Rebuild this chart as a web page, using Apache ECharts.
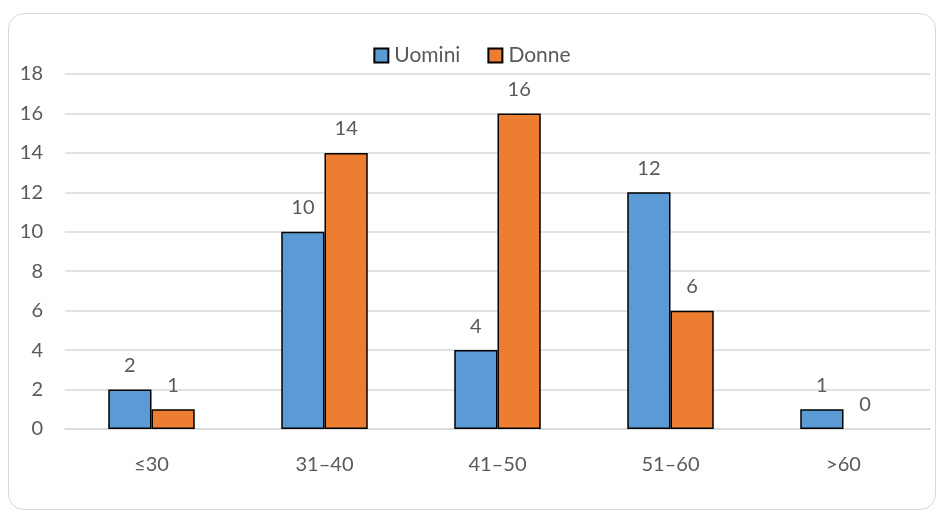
<!DOCTYPE html>
<html>
<head>
<meta charset="utf-8">
<script src="https://cdn.jsdelivr.net/npm/echarts@6/dist/echarts.min.js"></script>
<style>
  html, body { margin: 0; padding: 0; background: #fff; }
  #frame {
    position: absolute; left: 8px; top: 13px; width: 928px; height: 497px;
    border: 1.5px solid #d9d9d9; border-radius: 16px; box-sizing: border-box;
  }
  #chart { position: absolute; left: 0; top: 0; width: 944px; height: 518px; }
</style>
</head>
<body>
<div id="frame"></div>
<div id="chart"></div>
<script>
// Age groups and head counts
const categories = ['≤30', '31–40', '41–50', '51–60', '>60'];
const uomini = [2, 10, 4, 12, 1];
const donne = [1, 14, 16, 6, 0];
const yTicks = { min: 0, max: 18, interval: 2 };

const FONT = 'Lato, "Open Sans", sans-serif';
const TEXT = '#595959';
const SIZE = 20;

// Zero-height bars get no outline so no stray line sits on the axis
function toData(values) {
  return values.map(v => v === 0 ? { value: v, itemStyle: { borderWidth: 0 } } : v);
}

const barLabel = {
  show: true, position: 'top', distance: 14,
  color: TEXT, fontSize: SIZE, fontFamily: FONT
};

const chart = echarts.init(document.getElementById('chart'), null, { renderer: 'canvas' });
chart.setOption({
  animation: false,
  textStyle: { fontFamily: FONT },
  legend: {
    top: 40, left: 'center', itemGap: 27,
    itemWidth: 14, itemHeight: 14, icon: 'rect',
    textStyle: { color: TEXT, fontSize: 21, fontFamily: FONT, padding: [0, 0, 0, 1] },
    data: ['Uomini', 'Donne']
  },
  grid: { left: 65, right: 14, top: 74, bottom: 89, containLabel: false },
  xAxis: {
    type: 'category', data: categories,
    axisLine: { lineStyle: { color: '#d9d9d9', width: 1.5 } },
    axisTick: { show: false },
    axisLabel: { color: TEXT, fontSize: SIZE, fontFamily: FONT, margin: 26 }
  },
  yAxis: {
    type: 'value', min: yTicks.min, max: yTicks.max, interval: yTicks.interval,
    axisLine: { show: false }, axisTick: { show: false },
    splitLine: { lineStyle: { color: '#d9d9d9', width: 1.5 } },
    axisLabel: { color: TEXT, fontSize: SIZE, fontFamily: FONT, margin: 22 }
  },
  series: [
    {
      name: 'Uomini', type: 'bar', data: toData(uomini),
      barGap: '0%', barCategoryGap: '50%',
      itemStyle: { color: '#5B9BD5', borderColor: '#000', borderWidth: 1.5 },
      label: barLabel
    },
    {
      name: 'Donne', type: 'bar', data: toData(donne),
      itemStyle: { color: '#ED7D31', borderColor: '#000', borderWidth: 1.5 },
      label: barLabel
    }
  ]
});
</script>
</body>
</html>
